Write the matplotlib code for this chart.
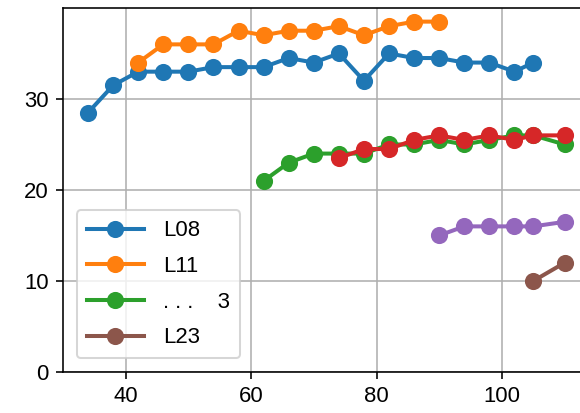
import matplotlib
matplotlib.use("Agg")
import matplotlib.pyplot as plt

plt.rcParams['font.family'] = ['Liberation Sans', 'DejaVu Sans']
plt.rcParams['font.size'] = 11

x_l08 = [34, 38, 42, 46, 50, 54, 58, 62, 66, 70, 74, 78, 82, 86, 90, 94, 98, 102, 105]
y_l08 = [28.5, 31.5, 33, 33, 33, 33.5, 33.5, 33.5, 34.5, 34, 35, 32, 35, 34.5, 34.5, 34, 34, 33, 34]

x_l11 = [42, 46, 50, 54, 58, 62, 66, 70, 74, 78, 82, 86, 90]
y_l11 = [34, 36, 36, 36, 37.5, 37, 37.5, 37.5, 38, 37, 38, 38.5, 38.5]

x_g = [62, 66, 70, 74, 78, 82, 86, 90, 94, 98, 102, 105, 110]
y_g = [21, 23, 24, 24, 24, 25, 25, 25.5, 25, 25.5, 26, 26, 25]

x_r = [74, 78, 82, 86, 90, 94, 98, 102, 105, 110]
y_r = [23.5, 24.5, 24.5, 25.5, 26, 25.5, 26, 25.5, 26, 26]

x_p = [90, 94, 98, 102, 105, 110]
y_p = [15, 16, 16, 16, 16, 16.5]

x_l23 = [105, 110]
y_l23 = [10, 12]

labels = ['L08', 'L11', '. . .    3', 'L23']

fig = plt.figure(figsize=(4.0, 4.0 * 413 / 580), dpi=145)
ax = fig.add_axes([0.1086, 0.0993, 0.8973, 0.8814])

kw = dict(marker='o', markersize=7.5, linewidth=2)
ax.plot(x_l08, y_l08, color='C0', label=labels[0], **kw)
ax.plot(x_l11, y_l11, color='C1', label=labels[1], **kw)
ax.plot(x_g, y_g, color='C2', label=labels[2], **kw)
ax.plot(x_r, y_r, color='C3', label='_nolegend_', **kw)
ax.plot(x_p, y_p, color='C4', label='_nolegend_', **kw)
ax.plot(x_l23, y_l23, color='C5', label=labels[3], **kw)

ax.set_xlim(30, 113)
ax.set_ylim(0, 40)
ax.set_xticks([40, 60, 80, 100])
ax.set_yticks([0, 10, 20, 30])
ax.tick_params(labelsize=11)
ax.grid(True, color='#b0b0b0', linewidth=0.8)
ax.set_axisbelow(True)
ax.legend(loc='lower left', handlelength=2.6, handletextpad=0.86,
          borderpad=0.45, borderaxespad=0.62, labelspacing=0.66)

fig.savefig('out.png', dpi=145)
